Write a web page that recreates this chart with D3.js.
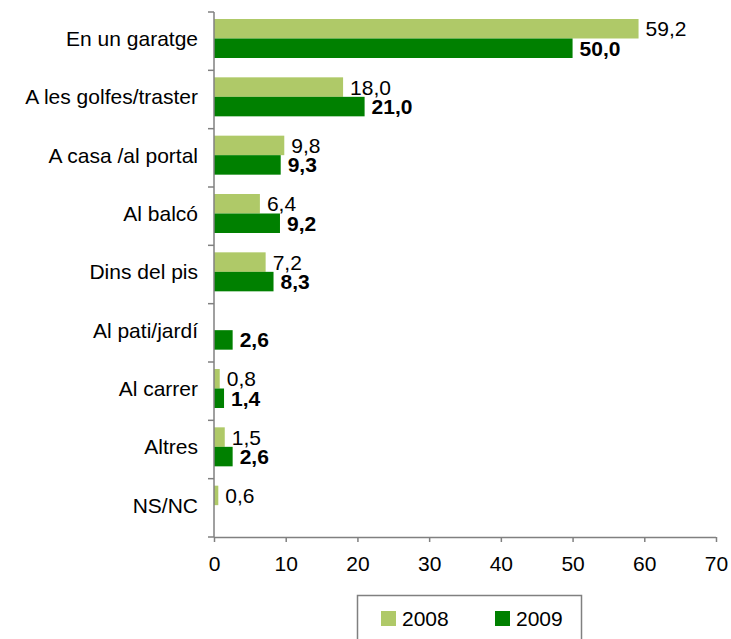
<!DOCTYPE html>
<html><head><meta charset="utf-8">
<script src="https://cdn.jsdelivr.net/npm/d3@7/dist/d3.min.js"></script>
<style>body{margin:0;background:#fff}svg{display:block}</style>
</head><body>
<script>
const categories = ["En un garatge","A les golfes/traster","A casa /al portal","Al balcó","Dins del pis","Al pati/jardí","Al carrer","Altres","NS/NC"];
const series2008 = [59.2,18.0,9.8,6.4,7.2,null,0.8,1.5,0.6];
const series2009 = [50.0,21.0,9.3,9.2,8.3,2.6,1.4,2.6,null];
const seriesNames = ["2008","2009"];
const xTicks = [0,10,20,30,40,50,60,70];

const W=731,H=639;
const svg=d3.select("body").append("svg").attr("width",W).attr("height",H);
const font="'Liberation Sans', Arial, sans-serif";
const fs=21;
const colors=["#AFC968","#008000"];
const axisCol="#808080";

const x=d3.scaleLinear().domain([0,70]).range([214,716]);
const y=d3.scaleBand().domain(categories).range([12,537]);
const bw=y.bandwidth();
const barH=19.5, off=7;
const fmt=v=>d3.format(".1f")(v).replace(".",",");

// bars
[series2008,series2009].forEach((s,si)=>{
  const g=svg.append("g");
  categories.forEach((c,i)=>{
    const v=s[i]; if(v==null) return;
    const y0=y(c)+off+si*barH;
    g.append("rect").attr("x",x(0)).attr("y",y0).attr("width",x(v)-x(0)).attr("height",barH).attr("fill",colors[si]);
    g.append("text").attr("x",x(v)+7).attr("y",y0+barH/2).attr("dy","0.36em")
      .attr("font-family",font).attr("font-size",fs).attr("font-weight",si===1?"bold":"normal")
      .attr("fill","#000").text(fmt(v));
  });
});

// left axis
svg.append("line").attr("x1",214).attr("x2",214).attr("y1",12).attr("y2",537).attr("stroke",axisCol).attr("stroke-width",1.5);
d3.range(categories.length+1).forEach(i=>{
  const yy=12+i*bw;
  svg.append("line").attr("x1",208).attr("x2",214).attr("y1",yy).attr("y2",yy).attr("stroke",axisCol).attr("stroke-width",1.5);
});
categories.forEach(c=>{
  svg.append("text").attr("x",198).attr("y",y(c)+off+barH).attr("dy","0.36em").attr("text-anchor","end")
    .attr("font-family",font).attr("font-size",fs).attr("fill","#000").text(c);
});

// bottom axis
const xa=svg.append("g").attr("transform","translate(0,537)")
  .call(d3.axisBottom(x).tickValues(xTicks).tickSize(5).tickPadding(14).tickFormat(d3.format("d")));
xa.select(".domain").attr("stroke",axisCol).attr("stroke-width",1.5).attr("d","M214,0.5H716");
xa.selectAll(".tick line").attr("stroke",axisCol).attr("stroke-width",1.5);
xa.selectAll(".tick text").attr("font-family",font).attr("font-size",fs).attr("fill","#000");

// legend
svg.append("rect").attr("x",357.5).attr("y",595.5).attr("width",224).attr("height",60).attr("fill","none").attr("stroke",axisCol).attr("stroke-width",1.5);
const lx=[381,495];
seriesNames.forEach((n,i)=>{
  svg.append("rect").attr("x",lx[i]).attr("y",611).attr("width",15).attr("height",15).attr("fill",colors[i]);
  svg.append("text").attr("x",lx[i]+21).attr("y",618.5).attr("dy","0.36em").attr("font-family",font).attr("font-size",fs).attr("fill","#000").text(n);
});
</script>
</body></html>
